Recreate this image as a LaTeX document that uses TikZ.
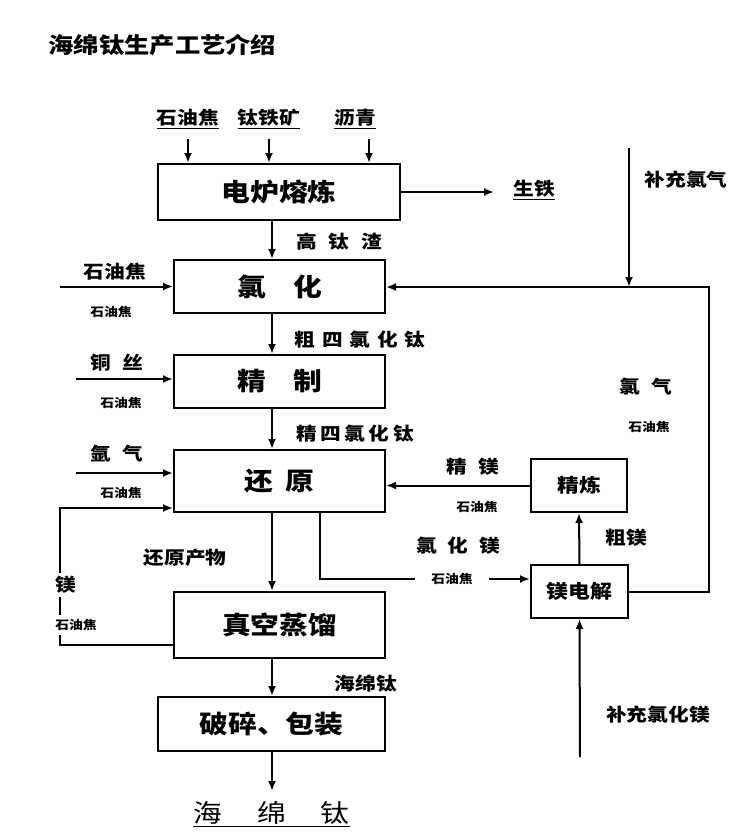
\documentclass[tikz,border=0pt]{standalone}
\usepackage{fontspec}
\setmainfont{Noto Sans CJK SC}[FakeStretch=1.15]
\usetikzlibrary{arrows.meta}
\newcommand\chgap[1]{\hspace{#1em}}
\tikzset{
  box/.style={draw, line width=2pt, inner sep=0pt, font=\bfseries\fontsize{25}{25}\selectfont},
  minibox/.style={draw, line width=2pt, inner sep=0pt, font=\bfseries\fontsize{19}{19}\selectfont},
  lbl/.style={font=\bfseries\fontsize{18}{18}\selectfont, inner sep=1pt},
  note/.style={font=\bfseries\fontsize{12}{12}\selectfont, inner sep=1pt},
  flow/.style={line width=2pt, -{Latex[length=10pt,width=8pt]}},
  pipe/.style={line width=2pt}
}
\begin{document}
\begin{tikzpicture}[x=1pt,y=-1pt]
\useasboundingbox (0,0) rectangle (750,839);
% Title
\node[anchor=west, font=\bfseries\fontsize{22}{22}\selectfont] (title) at (45,45) {海绵钛生产工艺介绍};

% Raw materials
\node[lbl] (coke) at (188,119) {\underline{石油焦}};
\node[lbl] (ilmenite) at (269,119) {\underline{钛铁矿}};
\node[lbl] (pitch) at (355,119) {\underline{沥青}};

% Process boxes
\node[box, minimum width=242pt, minimum height=56pt] (furnace) at (279,192) {电炉熔炼};
\node[box, minimum width=211pt, minimum height=53pt] (chlor) at (279.5,286.5) {氯\chgap{1.1}化};
\node[box, minimum width=211pt, minimum height=53pt] (purify) at (279.5,381.5) {精\chgap{1.1}制};
\node[box, minimum width=211pt, minimum height=62pt] (reduce) at (279.5,481) {还\chgap{0.5}原};
\node[box, minimum width=211pt, minimum height=66pt] (distill) at (279.5,625) {真空蒸馏};
\node[box, minimum width=227pt, minimum height=54pt] (pack) at (271.5,724) {破碎、包装};
\node[minibox, minimum width=96pt, minimum height=53pt] (mgrefine) at (579,485.5) {精炼};
\node[minibox, minimum width=97pt, minimum height=53pt] (electro) at (579.5,591.5) {镁电解};

% Labels
\node[lbl] (pig) at (534,190) {\underline{生铁}};
\node[lbl] (addcl) at (686,180) {补充氯气};
\node[lbl] (slag) at (339,242) {高\chgap{0.65}钛\chgap{0.65}渣};
\node[lbl] (coke2) at (115,272) {石油焦};
\node[note] (n1) at (111,312) {石油焦};
\node[lbl] (crude) at (360,340) {粗\chgap{0.38}四\chgap{0.38}氯\chgap{0.38}化\chgap{0.38}钛};
\node[lbl] (wire) at (117,363) {铜\chgap{0.65}丝};
\node[note] (n2) at (121,403) {石油焦};
\node[lbl] (clgas) at (646,387) {氯\chgap{0.65}气};
\node[note] (n3) at (649,427) {石油焦};
\node[lbl] (pure) at (355,434) {精\chgap{0.2}四\chgap{0.2}氯\chgap{0.2}化\chgap{0.2}钛};
\node[lbl] (argon) at (117,454) {氩\chgap{0.65}气};
\node[note] (n4) at (121,493) {石油焦};
\node[lbl] (puremg) at (473,467) {精\chgap{0.65}镁};
\node[note] (n5) at (477,507) {石油焦};
\node[lbl] (crudemg) at (626,538) {粗镁};
\node[lbl] (mgcl) at (458,546) {氯\chgap{0.6}化\chgap{0.6}镁};
\node[lbl] (product) at (185,558) {还原产物};
\node[lbl] (sponge) at (366,684) {海绵钛};
\node[lbl] (addmgcl) at (658,715) {补充氯化镁};
\node[anchor=north, font=\fontsize{25}{25}\selectfont] (final) at (271.5,798) {\underline{海\chgap{1.4}绵\chgap{1.4}钛}};

% Free ends
\coordinate (spine) at (272,0);
\coordinate (clin) at (629,148);
\coordinate (rtop) at (709,287);
\coordinate (in1) at (60,286.5);
\coordinate (in2) at (76,379);
\coordinate (in3) at (76,473);
\coordinate (branch) at (320,0);
\coordinate (mgleft) at (60,508);
\coordinate (mgin) at (580,757);

% Arrows
\draw[flow] ([yshift=-9pt]coke.south) -- (coke.south |- furnace.north);
\draw[flow] ([yshift=-9pt]ilmenite.south) -- (ilmenite.south |- furnace.north);
\draw[flow] ([xshift=14pt,yshift=-9pt]pitch.south) -- ([xshift=14pt]pitch.south |- furnace.north);
\draw[flow] (furnace.east) -- ++(93,0);
\draw[flow] (spine |- furnace.south) -- (spine |- chlor.north);
\draw[flow] (in1) -- (chlor.west);
\draw[flow] (clin) -- (clin |- rtop);
\draw[flow] (electro.east) -| (rtop) -- (chlor.east |- rtop);
\draw[flow] (spine |- chlor.south) -- (spine |- purify.north);
\draw[flow] (in2) -- (purify.west |- in2);
\draw[flow] (spine |- purify.south) -- (spine |- reduce.north);
\draw[flow] (in3) -- (reduce.west |- in3);
\draw[flow] (mgrefine.west) -- (reduce.east |- mgrefine.west);
\draw[flow] (electro.north) -- (mgrefine.south);
\draw[flow] (mgin) -- (electro.south);
\node[note, inner xsep=16pt] (n6) at (452,579) {石油焦};
\draw[pipe] (branch |- reduce.south) |- (n6.west);
\draw[flow] (n6.east) -- (electro.west |- n6.east);
\draw[flow] (spine |- reduce.south) -- (spine |- distill.north);
\draw[flow] ([yshift=14pt]distill.south west) -| (mgleft) -- (reduce.west |- mgleft);
\node[lbl, fill=white, inner ysep=3pt] (mg) at (66,585) {镁};
\node[note, fill=white, inner ysep=4pt] (n7) at (76,625) {石油焦};
\draw[flow] (spine |- distill.south) -- (spine |- pack.north);
\draw[flow] (spine |- pack.south) -- ++(0,39);
\end{tikzpicture}
\end{document}
